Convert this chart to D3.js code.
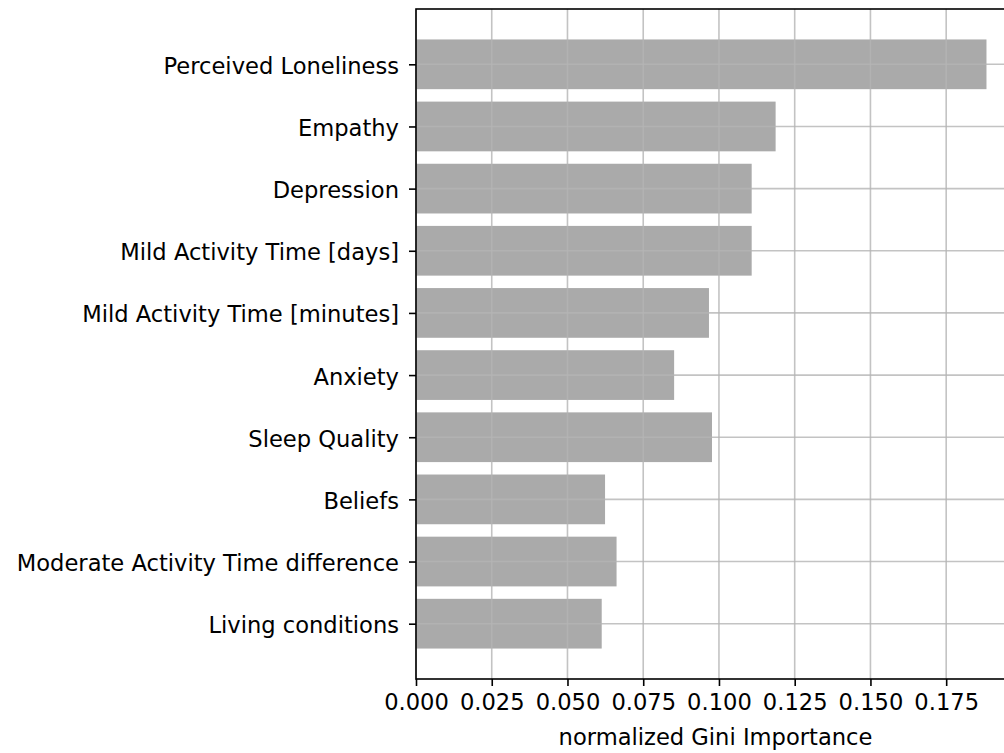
<!DOCTYPE html>
<html>
<head>
<meta charset="utf-8">
<script src="https://cdn.jsdelivr.net/npm/d3@7"></script>
<style>
  body { margin: 0; background: #fff; }
  svg { display: block; font-family: "DejaVu Sans", sans-serif; }
</style>
</head>
<body>
<svg width="1004" height="753"></svg>
<script>
var features = ["Perceived Loneliness", "Empathy", "Depression", "Mild Activity Time [days]",
  "Mild Activity Time [minutes]", "Anxiety", "Sleep Quality", "Beliefs",
  "Moderate Activity Time difference", "Living conditions"];
var importance = [0.1883, 0.1187, 0.1108, 0.1108, 0.0967, 0.0852, 0.0977, 0.0624, 0.0662, 0.0613];
var xTicks = [0, 0.025, 0.05, 0.075, 0.1, 0.125, 0.15, 0.175];

var svg = d3.select("svg"),
    margin = {top: 9, left: 416},
    width = 599,
    height = 670,
    fontSize = 22.6;

var g = svg.append("g")
    .attr("transform", "translate(" + margin.left + "," + margin.top + ")");

// matplotlib style limits: 5% margin
var xMax = d3.max(importance) * 1.05;
var x = d3.scaleLinear().domain([0, xMax]).range([0, width]);
var n = features.length;
var y = d3.scaleLinear().domain([-0.89, n - 1 + 0.89]).range([0, height]);
var barH = y(0.8) - y(0);

g.selectAll(".bar")
  .data(features)
  .enter().append("rect")
    .attr("class", "bar")
    .attr("x", x(0))
    .attr("y", function(d, i) { return y(i - 0.4); })
    .attr("width", function(d, i) { return x(importance[i]) - x(0); })
    .attr("height", barH)
    .attr("fill", "#aaaaaa");

// grid on top of the bars
var grid = g.append("g").attr("stroke", "#b4b4b4").attr("stroke-opacity", 0.8).attr("stroke-width", 1.6);
grid.selectAll(".vg").data(xTicks).enter().append("line")
    .attr("x1", function(d) { return x(d); })
    .attr("x2", function(d) { return x(d); })
    .attr("y1", 0).attr("y2", height);
grid.selectAll(".hg").data(features).enter().append("line")
    .attr("x1", 0).attr("x2", width)
    .attr("y1", function(d, i) { return y(i); })
    .attr("y2", function(d, i) { return y(i); });

// frame
g.append("rect")
    .attr("x", 0).attr("y", 0).attr("width", width).attr("height", height)
    .attr("fill", "none").attr("stroke", "#000").attr("stroke-width", 1.6);

var xAxis = g.append("g")
    .attr("transform", "translate(0," + height + ")")
    .call(d3.axisBottom(x).tickValues(xTicks).tickFormat(d3.format(".3f")).tickSize(7).tickPadding(8));
xAxis.select(".domain").remove();
xAxis.selectAll("line").attr("stroke-width", 1.6);
xAxis.selectAll("text").attr("font-size", fontSize).attr("fill", "#000").attr("font-family", "DejaVu Sans");

var yAxis = g.append("g")
    .call(d3.axisLeft(y).tickValues(d3.range(n)).tickFormat(function(i) { return features[i]; }).tickSize(7).tickPadding(10));
yAxis.select(".domain").remove();
yAxis.selectAll("line").attr("stroke-width", 1.6);
yAxis.selectAll("text").attr("font-size", fontSize).attr("dy", "0.4em").attr("fill", "#000").attr("font-family", "DejaVu Sans");

g.append("text")
    .attr("x", width / 2)
    .attr("y", height + 66)
    .attr("text-anchor", "middle")
    .attr("font-size", fontSize)
    .attr("fill", "#000")
    .text("normalized Gini Importance");
</script>
</body>
</html>
